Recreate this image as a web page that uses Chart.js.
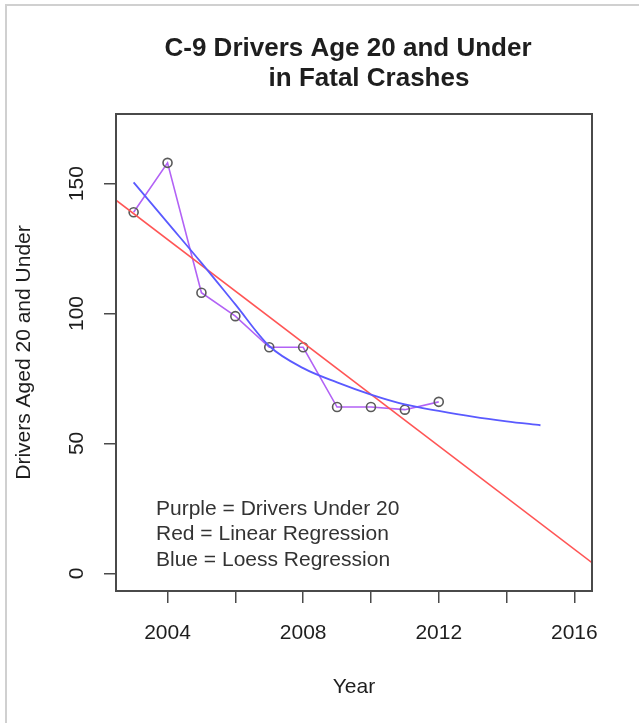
<!DOCTYPE html>
<html>
<head>
<meta charset="utf-8">
<title>C-9 Drivers Age 20 and Under</title>
<script src="https://cdn.jsdelivr.net/npm/chart.js@4.4.1/dist/chart.umd.min.js"></script>
<style>
    html, body { margin: 0; padding: 0; background: #fff; }
    #wrap { position: relative; width: 639px; height: 723px; }
</style>
</head>
<body>
<div id="wrap"><canvas id="crashChart" width="639" height="723"></canvas></div>
<script>
// observed counts
const years = [2003, 2004, 2005, 2006, 2007, 2008, 2009, 2010, 2011, 2012];
const drivers = [139, 158, 108, 99, 87, 87, 64, 64, 63, 66];

// linear regression line, read at the plot edges
const linearYears = [2002.48, 2016.52];
const linearValues = [143.6, 4.1];

// loess curve
const loessYears = [2003, 2004, 2005, 2006, 2007, 2008, 2009, 2010, 2011, 2012, 2013, 2014, 2015];
const loessValues = [150.5, 135, 119.5, 103.5, 87.5, 79, 73.5, 68.8, 65, 62.5, 60.3, 58.5, 57];

const xTicks = [2004, 2008, 2012, 2016];
const titleLines = ["C-9 Drivers Age 20 and Under", "in Fatal Crashes"];
const noteLines = ["Purple = Drivers Under 20", "Red = Linear Regression", "Blue = Loess Regression"];

const FONT = "'Liberation Sans', Arial, sans-serif";
const TEXT = "#1e1e1e";
const AXIS = "#4a4a4a";

function toPoints(xs, ys) {
    return xs.map((x, i) => ({ x: x, y: ys[i] }));
}

// frame, plot box, title and note text
const decorPlugin = {
    id: "decor",
    afterDraw(chart) {
        const ctx = chart.ctx;
        const area = chart.chartArea;
        ctx.save();

        // image frame (top and left edges only)
        ctx.fillStyle = "#d0d0d0";
        ctx.fillRect(5, 4, 634, 2);
        ctx.fillRect(5, 4, 2, 719);

        // plot box
        ctx.strokeStyle = AXIS;
        ctx.lineWidth = 2;
        ctx.strokeRect(area.left, area.top, area.right - area.left, area.bottom - area.top);

        // title
        ctx.fillStyle = TEXT;
        ctx.textAlign = "center";
        ctx.textBaseline = "alphabetic";
        ctx.font = "bold 26px " + FONT;
        ctx.fillText(titleLines[0], 348, 56);
        ctx.fillText(titleLines[1], 369, 86);

        // note inside the plot
        ctx.textAlign = "left";
        ctx.font = "21px " + FONT;
        ctx.fillStyle = "#333";
        noteLines.forEach((line, i) => {
            ctx.fillText(line, 156, 515 + i * 25.3);
        });
        ctx.restore();
    }
};

new Chart(document.getElementById("crashChart").getContext("2d"), {
    type: "scatter",
    data: {
        datasets: [
            {
                label: "Drivers Under 20",
                data: toPoints(years, drivers),
                showLine: true,
                borderColor: "rgb(178, 98, 245)",
                borderWidth: 1.6,
                pointStyle: "circle",
                pointRadius: 4.5,
                pointBorderColor: "#5a5a5a",
                pointBorderWidth: 1.6,
                pointBackgroundColor: "rgba(0,0,0,0)",
                order: 3
            },
            {
                label: "Linear Regression",
                data: toPoints(linearYears, linearValues),
                showLine: true,
                borderColor: "rgb(255, 85, 85)",
                borderWidth: 1.6,
                pointRadius: 0,
                order: 2
            },
            {
                label: "Loess Regression",
                data: toPoints(loessYears, loessValues),
                showLine: true,
                borderColor: "rgb(90, 90, 255)",
                borderWidth: 1.8,
                pointRadius: 0,
                cubicInterpolationMode: "monotone",
                order: 1
            }
        ]
    },
    options: {
        responsive: false,
        animation: false,
        devicePixelRatio: 1,
        layout: {
            padding: { top: 114, right: 47, left: 0, bottom: 0 }
        },
        plugins: {
            legend: { display: false },
            tooltip: { enabled: false },
            title: { display: false }
        },
        scales: {
            x: {
                type: "linear",
                min: 2002.48,
                max: 2016.52,
                afterFit: (scale) => { scale.height = 132; },
                border: { display: false },
                grid: {
                    drawOnChartArea: false,
                    drawTicks: true,
                    tickLength: 12,
                    color: AXIS,
                    lineWidth: 1.5
                },
                ticks: {
                    stepSize: 2,
                    includeBounds: false,
                    autoSkip: false,
                    maxRotation: 0,
                    padding: 18,
                    color: TEXT,
                    font: { family: FONT, size: 21 },
                    callback: (v) => xTicks.includes(v) ? String(v) : ""
                },
                title: {
                    display: true,
                    text: "Year",
                    color: TEXT,
                    font: { family: FONT, size: 21 },
                    padding: { top: 4, bottom: 23 }
                }
            },
            y: {
                type: "linear",
                min: -6.8,
                max: 176.8,
                afterFit: (scale) => { scale.width = 116; },
                border: { display: false },
                grid: {
                    drawOnChartArea: false,
                    drawTicks: true,
                    tickLength: 12,
                    color: AXIS,
                    lineWidth: 1.5
                },
                ticks: {
                    stepSize: 50,
                    includeBounds: false,
                    minRotation: 90,
                    maxRotation: 90,
                    crossAlign: "center",
                    padding: 9,
                    color: TEXT,
                    font: { family: FONT, size: 21 }
                },
                title: {
                    display: true,
                    text: "Drivers Aged 20 and Under",
                    color: TEXT,
                    font: { family: FONT, size: 21 },
                    padding: { top: 12, bottom: 4 }
                }
            }
        }
    },
    plugins: [decorPlugin]
});
</script>
</body>
</html>
